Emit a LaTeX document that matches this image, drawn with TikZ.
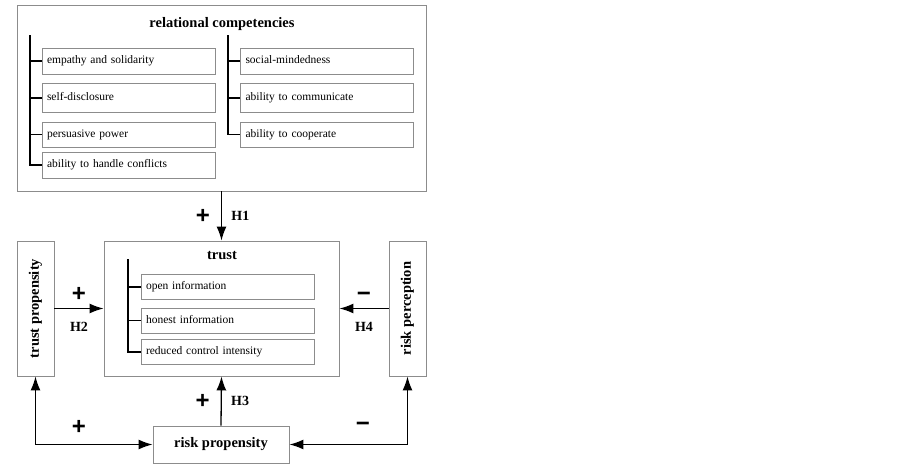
\documentclass[tikz,border=0pt]{standalone}
\usepackage{fontspec}
\setmainfont{Liberation Serif}
\newfontfamily\signfont{Liberation Sans}
\usetikzlibrary{positioning,arrows.meta,calc}

\begin{document}
\begin{tikzpicture}[x=1pt,y=-1pt,>={Latex[length=14pt,width=10pt]},
	frame/.style={draw=black!45,line width=0.9pt,inner sep=0pt},
	itembox/.style={frame,minimum width=173,minimum height=26,
		text width=163,inner xsep=5pt,align=left,
		text height=8pt,text depth=2.5pt,
		font=\fontsize{11.5}{13}\selectfont},
	title/.style={font=\fontsize{14.5}{16}\selectfont\bfseries},
	hlab/.style={font=\fontsize{14}{16}\selectfont\bfseries},
	sign/.style={font=\fontsize{24}{26}\selectfont\signfont\bfseries,inner sep=0pt},
	bar/.style={line width=1.3pt},
	arr/.style={line width=1.3pt,->},
	arrr/.style={line width=1.3pt,<->}]
	\useasboundingbox (0,0) rectangle (903,466);

	% relational competencies
	\node[frame,minimum width=409,minimum height=186] (RC) at (221.5,98) {};
	\node[title] (RCt) at (222,24) {relational competencies};
	\node[itembox] (L1) at (128.5,61) {empathy and solidarity};
	\node[itembox,minimum height=29] (L2) at (128.5,98) {self-disclosure};
	\node[itembox,minimum height=25] (L3) at (128.5,134.5) {persuasive power};
	\node[itembox] (L4) at (128.5,165) {ability to handle conflicts};
	\node[itembox] (R1) at (327,61) {social-mindedness};
	\node[itembox,minimum height=29] (R2) at (327,98) {ability to communicate};
	\node[itembox,minimum height=25] (R3) at (327,134.5) {ability to cooperate};
	\coordinate (Lbar) at (30,35);
	\coordinate (Rbar) at (228,35);
	\draw[bar] (Lbar) |- (L4.west);
	\foreach \b in {L1,L2,L3}
		\draw[bar] (\b.west) -- (Lbar |- \b.west);
	\draw[bar] (Rbar) |- (R3.west);
	\foreach \b in {R1,R2}
		\draw[bar] (\b.west) -- (Rbar |- \b.west);

	% trust
	\node[frame,minimum width=235,minimum height=135] (T) at (221.5,308.5) {};
	\node[title] (Tt) at (222,256) {trust};
	\node[itembox,minimum height=25] (T1) at (227.5,287) {open information};
	\node[itembox,minimum height=25] (T2) at (227.5,320.5) {honest information};
	\node[itembox,minimum height=25] (T3) at (227.5,352) {reduced control intensity};
	\coordinate (Tbar) at (128,259);
	\draw[bar] (Tbar) |- (T3.west);
	\foreach \b in {T1,T2}
		\draw[bar] (\b.west) -- (Tbar |- \b.west);

	% side and bottom boxes
	\node[frame,minimum width=37,minimum height=135] (TP) at (35.5,308.5) {};
	\node[title,rotate=90] (TPt) at (TP.center) {trust propensity};
	\node[frame,minimum width=37,minimum height=135] (RPc) at (407.5,308.5) {};
	\node[title,rotate=90] (RPct) at (RPc.center) {risk perception};
	\node[frame,title,minimum width=136,minimum height=37] (RP) at (221,444.5) {risk propensity};

	% hypotheses
	\draw[arr] (RC.south) -- node[sign,left=11pt]{+} node[hlab,right=6pt]{H1} (T.north);
	\draw[arr] (TP.east) -- node[sign,above=6pt]{+} node[hlab,below=10pt]{H2} (T.west);
	\draw[arr] (RP.north) -- node[sign,left=11pt]{+} node[hlab,right=6pt]{H3} (T.south);
	\draw[arr] (RPc.west) -- node[sign,above=6pt]{\char"2212} node[hlab,below=10pt]{H4} (T.east);
	\draw[arrr] (TP.south) |- (RP.west);
	\draw[arrr] (RPc.south) |- (RP.east);
	\node[sign] (S5) at (79,427) {+};
	\node[sign] (S6) at (363,427) {\char"2212};
\end{tikzpicture}
\end{document}
